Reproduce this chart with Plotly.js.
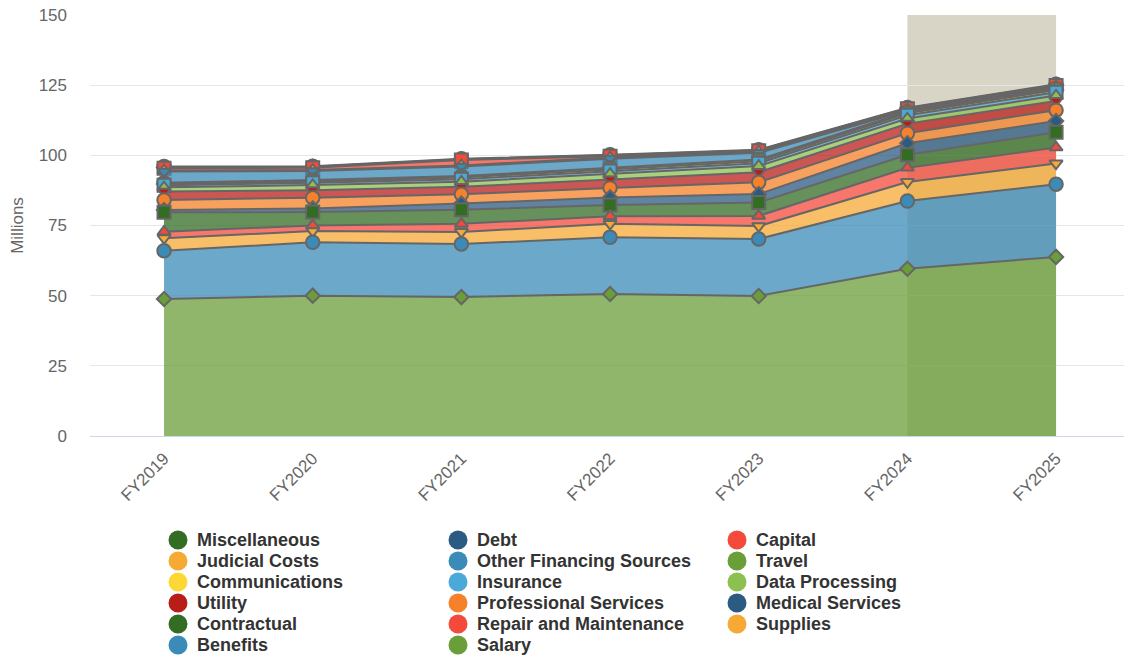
<!DOCTYPE html>
<html>
<head>
<meta charset="utf-8">
<script src="https://cdn.plot.ly/plotly-3.0.1.min.js"></script>
<style>html,body{margin:0;padding:0;background:#fff;}#chart{width:1124px;height:659px;}</style>
</head>
<body>
<div id="chart"></div>
<script>
// Categories
const years = ['FY2019', 'FY2020', 'FY2021', 'FY2022', 'FY2023', 'FY2024', 'FY2025'];

// Series values (millions), per year
const miscellaneous        = [0.3, 0.2, 0.2, 0.2, 0.2, 0.2, 0.2];
const debt                 = [0.3, 0.3, 0.3, 0.3, 0.2, 0.2, 0.2];
const capital              = [0.8, 0.8, 1.9, 0.5, 0.3, 0.3, 0.3];
const judicialCosts        = [0.4, 0.4, 0.4, 0.4, 0.4, 0.3, 0.3];
const otherFinancing       = [4.0, 3.2, 3.4, 3.2, 2.4, 0.5, 0.5];
const travel               = [0.4, 0.5, 0.5, 0.5, 0.6, 0.5, 0.5];
const communications       = [0.5, 0.5, 0.6, 0.7, 0.7, 0.7, 0.8];
const insurance            = [0.7, 0.8, 0.9, 1.0, 1.0, 1.2, 1.2];
const dataProcessing       = [1.5, 1.8, 1.8, 2.0, 2.2, 1.8, 1.9];
const utility              = [3.0, 2.7, 2.7, 3.0, 3.6, 3.4, 3.3];
const professionalServices = [3.6, 3.8, 3.3, 3.4, 4.2, 3.6, 3.9];
const medicalServices      = [0.8, 1.3, 2.2, 2.7, 3.0, 4.1, 4.0];
const contractual          = [6.9, 4.8, 5.0, 4.0, 4.8, 4.6, 5.4];
const repairMaintenance    = [2.3, 2.0, 2.9, 2.7, 3.6, 5.1, 5.7];
const supplies             = [4.5, 4.0, 4.3, 4.8, 4.6, 6.8, 7.4];
const benefits             = [17.2, 19.0, 18.9, 20.2, 20.3, 24.1, 25.9];
const salary               = [48.8, 50.0, 49.5, 50.6, 49.9, 59.6, 63.8];

// Y tick values
const yTicks = [0, 25, 50, 75, 100, 125, 150];

// Series list in legend / drawing order (first = top of stack)
const seriesList = [
  {name: 'Miscellaneous', values: miscellaneous, color: [51, 108, 35], symbol: 'circle'},
  {name: 'Debt', values: debt, color: [43, 90, 130], symbol: 'diamond'},
  {name: 'Capital', values: capital, color: [244, 74, 59], symbol: 'square'},
  {name: 'Judicial Costs', values: judicialCosts, color: [247, 169, 53], symbol: 'triangle-up'},
  {name: 'Other Financing Sources', values: otherFinancing, color: [59, 139, 184], symbol: 'triangle-down'},
  {name: 'Travel', values: travel, color: [106, 158, 56], symbol: 'circle'},
  {name: 'Communications', values: communications, color: [253, 216, 53], symbol: 'diamond'},
  {name: 'Insurance', values: insurance, color: [74, 169, 217], symbol: 'square'},
  {name: 'Data Processing', values: dataProcessing, color: [140, 193, 82], symbol: 'triangle-up'},
  {name: 'Utility', values: utility, color: [185, 29, 26], symbol: 'triangle-down'},
  {name: 'Professional Services', values: professionalServices, color: [245, 130, 42], symbol: 'circle'},
  {name: 'Medical Services', values: medicalServices, color: [43, 90, 130], symbol: 'diamond'},
  {name: 'Contractual', values: contractual, color: [51, 108, 35], symbol: 'square'},
  {name: 'Repair and Maintenance', values: repairMaintenance, color: [244, 74, 59], symbol: 'triangle-up'},
  {name: 'Supplies', values: supplies, color: [247, 169, 53], symbol: 'triangle-down'},
  {name: 'Benefits', values: benefits, color: [59, 139, 184], symbol: 'circle'},
  {name: 'Salary', values: salary, color: [106, 158, 56], symbol: 'diamond'}
];

const symbolSize = {'circle': 13.5, 'square': 13, 'diamond': 11, 'triangle-up': 11.5, 'triangle-down': 11.5};

// Cumulative stacking (bottom = last in list)
const n = years.length;
let running = new Array(n).fill(0);
const tops = [], bottoms = [];
for (let k = seriesList.length - 1; k >= 0; k--) {
  bottoms[k] = running.slice();
  running = running.map((v, i) => v + seriesList[k].values[i]);
  tops[k] = running.slice();
}

const rgb = c => 'rgb(' + c.join(',') + ')';
const rgba = (c, a) => 'rgba(' + c.join(',') + ',' + a + ')';

const traces = [];
seriesList.forEach((s, k) => {
  traces.push({
    type: 'scatter', mode: 'lines',
    x: years.concat(years.slice().reverse()),
    y: tops[k].concat(bottoms[k].slice().reverse()),
    fill: 'toself', fillcolor: rgba(s.color, 0.75),
    line: {width: 0}, hoverinfo: 'skip', showlegend: false
  });
  traces.push({
    type: 'scatter', mode: 'lines+markers',
    x: years, y: tops[k], name: s.name,
    customdata: s.values,
    hovertemplate: s.name + ': %{customdata}<extra></extra>',
    line: {color: '#666666', width: 2},
    marker: {symbol: s.symbol, size: symbolSize[s.symbol], color: rgb(s.color),
             line: {color: '#666666', width: 2}},
    showlegend: false
  });
});

// Plot area in pixels (for placing the custom legend)
const W = 1124, H = 659;
const M = {l: 90, r: 0, t: 15, b: 223};
const plotW = W - M.l - M.r, plotH = H - M.t - M.b;
const px2x = px => (px - M.l) / plotW;
const py2y = py => (H - M.b - py) / plotH;

// Legend: 3 columns, filled row by row
const legCols = [178, 458, 737];
const legRow0 = 540, legRowStep = 21;
const shapes = [{
  type: 'rect', xref: 'x', yref: 'paper', x0: 5, x1: 6, y0: 0, y1: 1,
  fillcolor: '#d8d5c6', line: {width: 0}, layer: 'below'
}];
const annotations = [];
seriesList.forEach((s, i) => {
  const col = i % 3, row = Math.floor(i / 3);
  const cx = legCols[col], cy = legRow0 + row * legRowStep;
  shapes.push({
    type: 'circle', xref: 'paper', yref: 'paper',
    xsizemode: 'pixel', ysizemode: 'pixel',
    xanchor: px2x(cx), yanchor: py2y(cy),
    x0: -9.5, x1: 9.5, y0: -9.5, y1: 9.5,
    fillcolor: rgb(s.color), line: {width: 0}
  });
  annotations.push({
    xref: 'paper', yref: 'paper', x: px2x(cx + 17), y: py2y(cy),
    xanchor: 'left', yanchor: 'middle', showarrow: false,
    text: '<b>' + s.name + '</b>',
    font: {size: 18, color: '#333333'}
  });
});

const layout = {
  width: W, height: H,
  margin: {l: M.l, r: M.r, t: M.t, b: M.b, autoexpand: false},
  paper_bgcolor: '#ffffff', plot_bgcolor: '#ffffff',
  font: {family: '"Liberation Sans", Arial, Helvetica, sans-serif', color: '#666666', size: 17},
  showlegend: false,
  hovermode: 'closest',
  xaxis: {
    type: 'category', categoryorder: 'array', categoryarray: years,
    range: [-0.498, 6.457],
    tickangle: -45, ticks: '', showgrid: false, zeroline: false,
    showline: true, linecolor: '#ccd6eb', linewidth: 1,
    tickfont: {size: 17, color: '#666666'}, ticklabelstandoff: 5
  },
  yaxis: {
    range: [0, 150], tickvals: yTicks, ticktext: yTicks.map(String),
    showgrid: true, gridcolor: '#e6e6e6', gridwidth: 1, zeroline: false, showline: false,
    ticks: '', tickfont: {size: 17, color: '#666666'}, ticklabelstandoff: 22,
    title: {text: 'Millions', font: {size: 17, color: '#666666'}, standoff: 10}
  },
  shapes: shapes,
  annotations: annotations
};

Plotly.newPlot('chart', traces, layout, {displayModeBar: false, responsive: false});
</script>
</body>
</html>
